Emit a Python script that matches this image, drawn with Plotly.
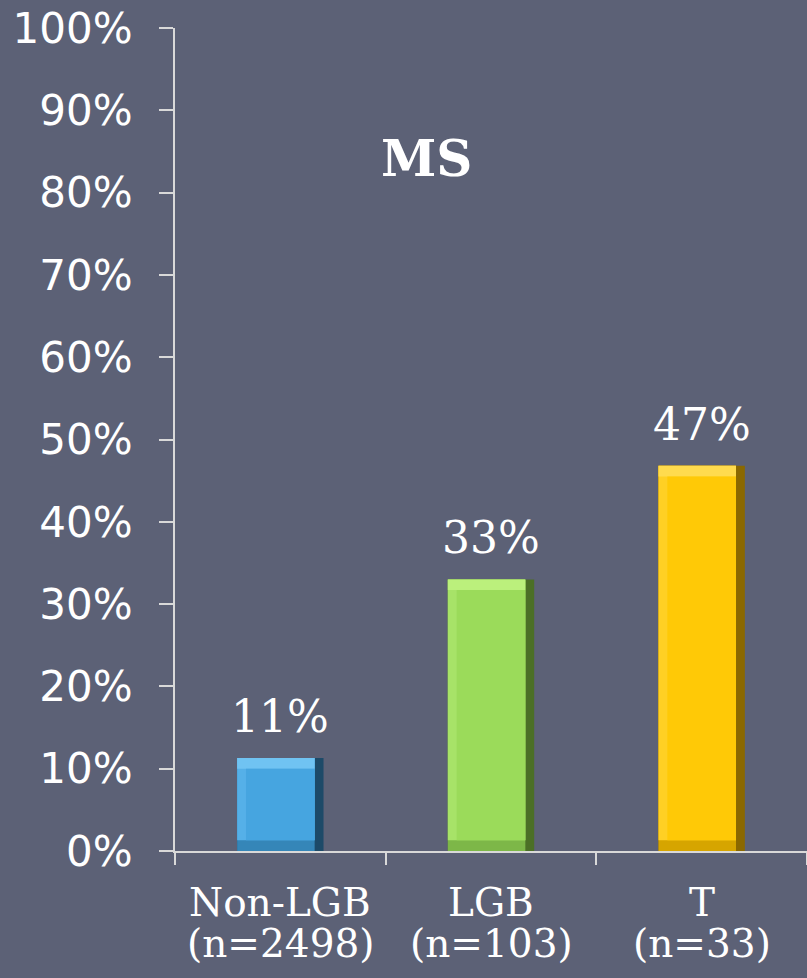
import plotly.graph_objects as go

categories = ["Non-LGB", "LGB", "T"]
n_labels = ["(n=2498)", "(n=103)", "(n=33)"]
values = [11.3, 33, 46.8]
value_labels = ["11%", "33%", "47%"]
bar_colors = ["#46a5e0", "#9bdb5a", "#ffc906"]
top_colors = ["#70c3f2", "#bbf07c", "#ffdb4e"]
left_colors = ["#55b0e8", "#a7e368", "#ffd024"]
right_colors = ["#1d4a68", "#4b6f26", "#8a6800"]
bottom_colors = ["#3586b8", "#7db748", "#d6a500"]
y_ticks = list(range(0, 101, 10))
y_tick_labels = [f"{t}%" for t in y_ticks]

serif = "DejaVu Serif, Liberation Serif, serif"
sans = "DejaVu Sans, Open Sans, sans-serif"
bg = "#5c6176"

W = 0.41      # bar width (category units)
S = 0.042     # bevel strip width (category units)
V = 1.3       # bevel strip height (axis units)


def layer(y, base, width, offset, colors):
    return go.Bar(x=categories, y=y, base=base, width=width, offset=offset,
                  marker=dict(color=colors, line=dict(width=0)), hoverinfo="skip")


fig = go.Figure()
fig.add_trace(layer(values, 0, W, -W / 2, right_colors))
fig.add_trace(layer(values, 0, W - S, -W / 2, bottom_colors))
fig.add_trace(layer([v - V for v in values], V, W - S, -W / 2, left_colors))
fig.add_trace(layer([V] * len(values), [v - V for v in values], W - S, -W / 2, top_colors))
fig.add_trace(layer([v - 2 * V for v in values], V, W - 2 * S, -W / 2 + S, bar_colors))

annotations = []
for c, v, t in zip(categories, values, value_labels):
    annotations.append(dict(x=c, y=v, xref="x", yref="y", text=t, showarrow=False,
                            yanchor="bottom", yshift=14,
                            font=dict(family=serif, size=44, color="white")))
for c, n in zip(categories, n_labels):
    annotations.append(dict(x=c, y=0, xref="x", yref="paper", text=c, showarrow=False,
                            yanchor="top", yshift=-27,
                            font=dict(family=serif, size=39, color="white")))
    annotations.append(dict(x=c, y=0, xref="x", yref="paper", text=n, showarrow=False,
                            yanchor="top", yshift=-68,
                            font=dict(family=serif, size=39, color="white")))
annotations.append(dict(
    text="<b>MS</b>", x=(426 - 175) / (807 - 175), y=(851 - 127) / (851 - 28),
    xref="paper", yref="paper",
    showarrow=False, font=dict(family=serif, size=50, color="white"),
))

fig.update_layout(
    width=807, height=978,
    margin=dict(l=175, r=0, t=28, b=127),
    paper_bgcolor=bg, plot_bgcolor=bg,
    showlegend=False,
    barmode="overlay",
    xaxis=dict(
        showline=True, linecolor="#d9d9d9", linewidth=2,
        ticks="outside", tickson="boundaries", ticklen=12, tickcolor="#d9d9d9", tickwidth=2,
        showticklabels=False, showgrid=False,
    ),
    yaxis=dict(
        range=[0, 100], tickvals=y_ticks, ticktext=y_tick_labels,
        showline=True, linecolor="#d9d9d9", linewidth=2,
        ticks="outside", ticklen=14, tickcolor="#d9d9d9", tickwidth=2,
        tickfont=dict(family=sans, size=42, color="white"),
        ticklabeloverflow="allow", ticklabelstandoff=18,
        showgrid=False, zeroline=False,
    ),
    annotations=annotations,
)

fig.write_html("out.html", config={"displayModeBar": False},
               post_script="document.body.style.margin='0';document.body.style.background='%s';" % bg)
